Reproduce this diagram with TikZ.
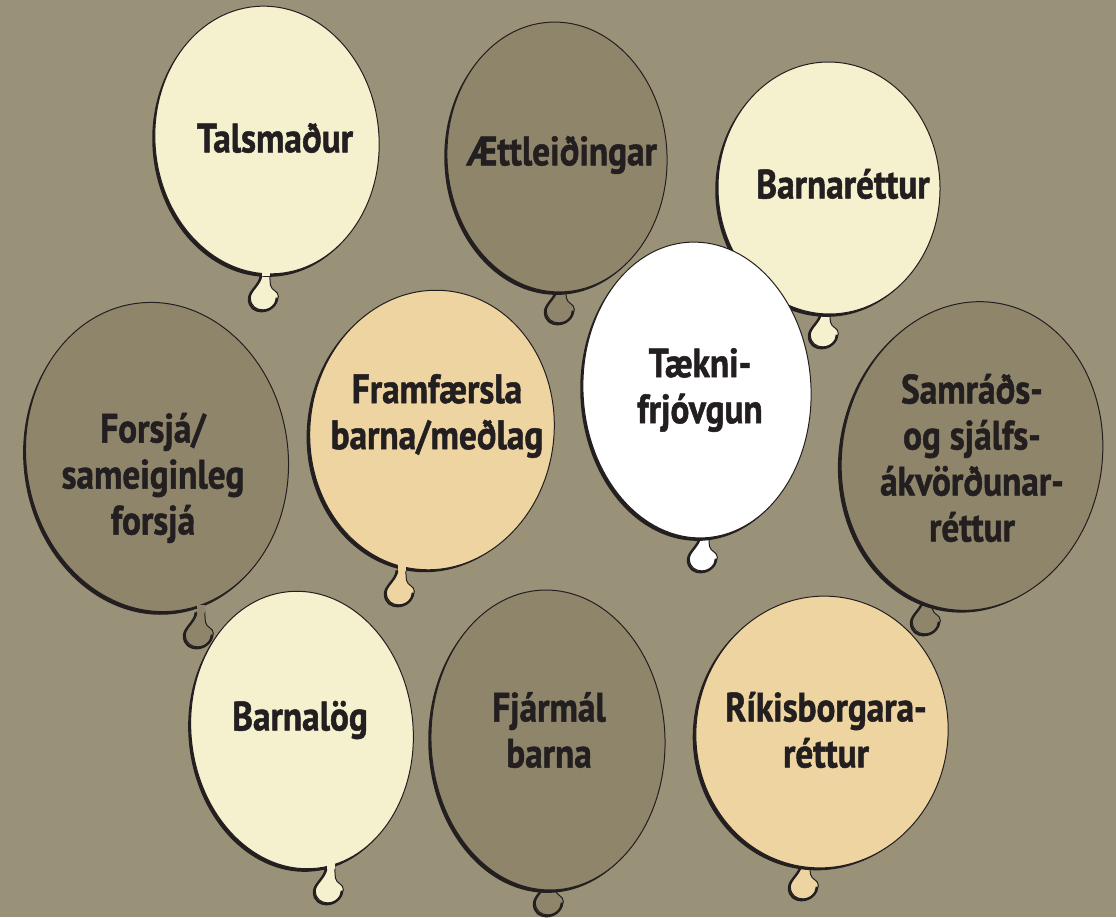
\documentclass[tikz,border=0pt]{standalone}
\usepackage{fontspec}
\newfontfamily\lblfont[FakeStretch=0.86, FakeBold=1.2]{PT Sans}
\usepackage{tikz}
\definecolor{bg}{HTML}{9A9278}
\definecolor{dun}{HTML}{8E856B}
\definecolor{cream}{HTML}{F5F0CE}
\definecolor{sand}{HTML}{EDD4A0}
\definecolor{ink}{HTML}{231F20}
\tikzset{
	lbl/.style={font=\lblfont\bfseries\fontsize{41}{46}\selectfont, text=ink, align=center},
	rim/.style={draw=ink, line width=1pt},
	knotpath/.pic={
		\begin{scope}[scale=1.12]
		\fill[#1] (-3.5,-6) -- (-3.5,0) .. controls (-3.5,8) and (-14,14) .. (-14,21)
			.. controls (-14,29) and (-8,32) .. (-3,32) .. controls (5,32) and (11,26) .. (11,20)
			.. controls (11,15) and (5,15) .. (4,10) .. controls (3.5,6) and (3.5,3) .. (3.5,0) -- (3.5,-6) -- cycle;
		\draw[ink, line width=2.4pt, shift={(-1.2,1.2)}] (-3.5,0) .. controls (-3.5,8) and (-14,14) .. (-14,21)
			.. controls (-14,29) and (-8,32) .. (-3,32) .. controls (5,32) and (11,26) .. (11,20);
		\draw[rim] (-3.5,0) .. controls (-3.5,8) and (-14,14) .. (-14,21)
			.. controls (-14,29) and (-8,32) .. (-3,32) .. controls (5,32) and (11,26) .. (11,20)
			.. controls (11,15) and (5,15) .. (4,10) .. controls (3.5,6) and (3.5,3) .. (3.5,0);
		\end{scope}
	}
}
\begin{document}
\begin{tikzpicture}[x=1pt, y=-1pt]
	\fill[bg] (0,0) rectangle (1116,917);
	% balloons, back to front: centre / radii / tilt / knot / colour
	\foreach \cx/\cy/\rx/\ry/\ang/\kx/\ky/\col in {
		157/457/131/155/8/201/611/dun,
		267/140/112/134/5/266/274/cream,
		557/157/110/135/3/562/287/dun,
		829/188/111/126/1/826/311/cream,
		822/732/126/136/-7/806/863/sand,
		972/456/130/155/-10/928/598/dun,
		432/430/122/140/-7/402/569/sand,
		697/390/114/148/3/705/535/white,
		302/730/111/139/6/331/867/cream,
		548/740/117/150/2/551/879/dun} {
		\pic at (\kx,\ky) {knotpath=\col};
		\begin{scope}[shift={(\cx,\cy)}, rotate=\ang]
			\fill[ink] (-2.8,2.8) ellipse [x radius=\rx, y radius=\ry];
			\draw[rim, fill=\col] (0,0) ellipse [x radius=\rx, y radius=\ry];
		\end{scope}
		\fill[\col] (\kx-3.9,\ky-6) rectangle (\kx+3.9,\ky+2);
	}
	\node[lbl] (talsmadur) at (275,138) {Talsmaður};
	\node[lbl] (aettleiding) at (562,155) {Ættleiðingar};
	\node[lbl] (barnarettur) at (843,184) {Barnaréttur};
	\node[lbl] (forsja) at (153,478) {Forsjá/\\sameiginleg\\forsjá};
	\node[lbl] (framfaersla) at (437,416) {Framfærsla\\barna/meðlag};
	\node[lbl] (taekni) at (700,390) {Tækni-\\frjóvgun};
	\node[lbl] (samrad) at (972,458) {Samráðs-\\og sjálfs-\\ákvörðunar-\\réttur};
	\node[lbl] (barnalog) at (300,720) {Barnalög};
	\node[lbl] (fjarmal) at (549,730) {Fjármál\\barna};
	\node[lbl] (rikis) at (826,730) {Ríkisborgara-\\réttur};
\end{tikzpicture}
\end{document}
